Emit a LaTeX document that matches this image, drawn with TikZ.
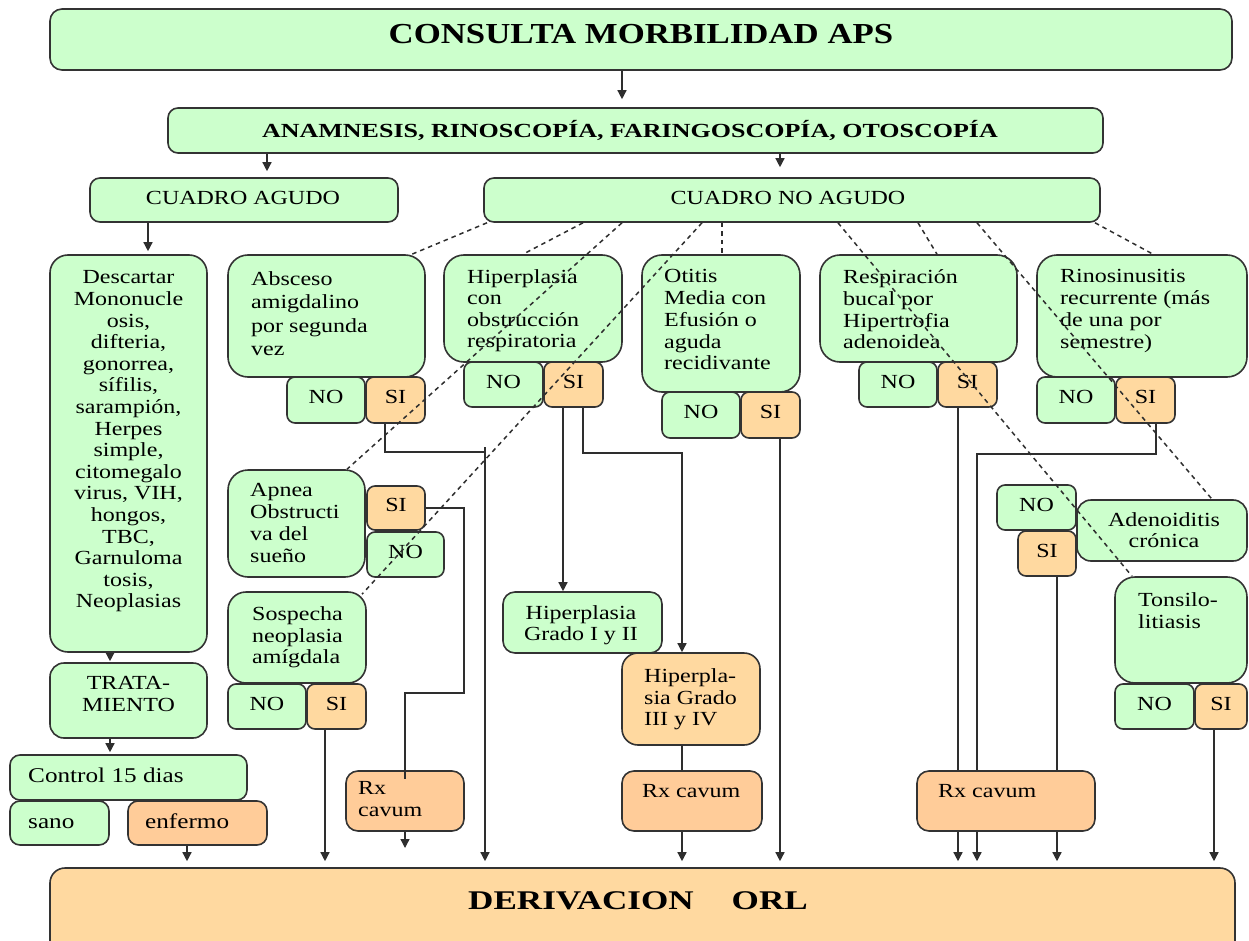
\documentclass[tikz,border=0pt]{standalone}
\usepackage{fontspec}
\setmainfont{Liberation Serif}[FakeStretch=1.2]
\newfontfamily\widefont{Liberation Serif}[FakeStretch=1.3]
\usetikzlibrary{arrows.meta,fit,backgrounds}
\definecolor{gfill}{HTML}{CCFFCC}
\definecolor{pfill}{HTML}{FFD9A0}
\definecolor{ofill}{HTML}{FFCC99}
\definecolor{bord}{HTML}{333333}
\definecolor{lncol}{HTML}{2E2E2E}
\newcommand\bodyfont{\fontsize{20}{21.7}\selectfont}
\tikzset{
  rbox/.style={draw=bord, line width=1.6pt, inner sep=0pt, rounded corners=#1},
  rbox/.default=10pt,
  gb/.style={rbox=#1, fill=gfill}, gb/.default=10pt,
  pb/.style={rbox=#1, fill=pfill}, pb/.default=8pt,
  ob/.style={rbox=#1, fill=ofill}, ob/.default=12pt,
  tx/.style={inner sep=0pt, align=left, anchor=north west, font=\bodyfont},
  tc/.style={inner sep=0pt, align=center, anchor=north, font=\bodyfont},
  tl/.style={inner sep=0pt, anchor=base, font=\bodyfont},
  tw/.style={inner sep=0pt, anchor=base west, font=\bodyfont},
  conn/.style={draw=lncol, line width=1.4pt},
  arr/.style={conn, -{Triangle[width=9pt,length=9pt]}},
  dsh/.style={draw=lncol, line width=1.5pt, dash pattern=on 4.5pt off 4pt},
}
\begin{document}
\begin{tikzpicture}[x=1pt,y=-1pt]
\useasboundingbox (0,0) rectangle (1249,941);
\clip (0,0) rectangle (1249,941);
% ---------- boxes ----------
\node[gb=12pt, fit={(50,9)(1232,70)}] (consulta) {};
\node[gb=10pt, fit={(168,108)(1103,153)}] (anam) {};
\node[gb=10pt, fit={(90,178)(398,222)}] (agudo) {};
\node[gb=10pt, fit={(484,178)(1100,222)}] (noagudo) {};
\node[gb=18pt, fit={(50,255)(207,652)}] (descartar) {};
\node[gb=14pt, fit={(50,663)(207,738)}] (trat) {};
\node[gb=10pt, fit={(10,755)(247,800)}] (control) {};
\node[gb=10pt, fit={(10,801)(109,845)}] (sano) {};
\node[ob=10pt, fit={(128,801)(267,845)}] (enfermo) {};
\node[gb=20pt, fit={(228,255)(425,377)}] (absceso) {};
\node[gb=8pt, fit={(287,377)(365,423)}] (absNO) {};
\node[pb=8pt, fit={(366,377)(425,423)}] (absSI) {};
\node[gb=20pt, fit={(444,255)(622,362)}] (hiper) {};
\node[gb=8pt, fit={(464,362)(543,407)}] (hipNO) {};
\node[pb=8pt, fit={(544,362)(603,407)}] (hipSI) {};
\node[gb=20pt, fit={(642,255)(800,392)}] (otitis) {};
\node[gb=8pt, fit={(662,392)(740,438)}] (otiNO) {};
\node[pb=8pt, fit={(741,392)(800,438)}] (otiSI) {};
\node[gb=20pt, fit={(820,255)(1017,362)}] (resp) {};
\node[gb=8pt, fit={(859,362)(937,407)}] (resNO) {};
\node[pb=8pt, fit={(938,362)(997,407)}] (resSI) {};
\node[gb=20pt, fit={(1037,255)(1247,377)}] (rino) {};
\node[gb=8pt, fit={(1037,377)(1115,423)}] (rinNO) {};
\node[pb=8pt, fit={(1116,377)(1175,423)}] (rinSI) {};
\node[gb=20pt, fit={(228,470)(365,577)}] (apnea) {};
\node[pb=8pt, fit={(367,486)(425,530)}] (apSI) {};
\node[gb=8pt, fit={(367,532)(444,577)}] (apNO) {};
\node[gb=18pt, fit={(228,592)(366,683)}] (sosp) {};
\node[gb=8pt, fit={(228,684)(306,729)}] (soNO) {};
\node[pb=8pt, fit={(307,684)(366,729)}] (soSI) {};
\node[ob=12pt, fit={(346,771)(464,831)}] (rxL) {};
\node[gb=12pt, fit={(503,592)(662,653)}] (gr12) {};
\node[pb=16pt, fit={(622,653)(760,745)}] (gr34) {};
\node[ob=12pt, fit={(622,771)(762,831)}] (rxM) {};
\node[gb=8pt, fit={(997,485)(1076,530)}] (adNO) {};
\node[pb=8pt, fit={(1018,531)(1076,576)}] (adSI) {};
\node[gb=14pt, fit={(1077,500)(1247,561)}] (aden) {};
\node[gb=20pt, fit={(1115,577)(1247,683)}] (tons) {};
\node[gb=8pt, fit={(1115,684)(1194,729)}] (toNO) {};
\node[pb=8pt, fit={(1195,684)(1247,729)}] (toSI) {};
\node[ob=12pt, fit={(917,771)(1095,831)}] (rxR) {};
\node[pb=15pt, fit={(50,868)(1235,960)}] (deriv) {};
% ---------- texts ----------
\node[inner sep=0pt, anchor=base, font=\fontsize{29}{32}\selectfont\bfseries] (consulta-t) at (641,44) {CONSULTA MORBILIDAD APS};
\node[inner sep=0pt, anchor=base, font=\widefont\fontsize{20}{22}\selectfont\bfseries] (anam-t) at (630,138) {ANAMNESIS, RINOSCOPÍA, FARINGOSCOPÍA, OTOSCOPÍA};
\node[tl] (agudo-t) at (243,205) {CUADRO AGUDO};
\node[tl] (noagudo-t) at (788,205) {CUADRO NO AGUDO};
\node[tc, font=\fontsize{20}{21.6}\selectfont] (descartar-t) at (128.5,270.5) {Descartar\\Mononucle\\osis,\\difteria,\\gonorrea,\\sífilis,\\sarampión,\\Herpes\\simple,\\citomegalo\\virus, VIH,\\hongos,\\TBC,\\Garnuloma\\tosis,\\Neoplasias};
\node[tc, font=\fontsize{20}{22}\selectfont] (trat-t) at (128.5,676.5) {TRATA-\\MIENTO};
\node[tw, font=\fontsize{21}{22}\selectfont] (control-t) at (28,782) {Control 15 dias};
\node[tw, font=\fontsize{21}{22}\selectfont] (sano-t) at (28,828) {sano};
\node[tw, font=\fontsize{21}{22}\selectfont] (enfermo-t) at (145,828) {enfermo};
\node[tx, font=\fontsize{20}{23.3}\selectfont] (absceso-t) at (251,271.5) {Absceso\\amigdalino\\por segunda\\vez};
\node[tx, font=\fontsize{20}{21.3}\selectfont] (hiper-t) at (467,269.5) {Hiperplasia\\con\\obstrucción\\respiratoria};
\node[tx] (otitis-t) at (664,269.5) {Otitis\\Media con\\Efusión o\\aguda\\recidivante};
\node[tx] (resp-t) at (843,269.5) {Respiración\\bucal por\\Hipertrofia\\adenoidea};
\node[tx] (rino-t) at (1060,269.5) {Rinosinusitis\\recurrente (más\\de una por\\semestre)};
\node[tx] (apnea-t) at (250,483.5) {Apnea\\Obstructi\\va del\\sueño};
\node[tx] (sosp-t) at (252,606.5) {Sospecha\\neoplasia\\amígdala};
\node[tx, font=\fontsize{20}{22}\selectfont] (rxL-t) at (358,781.5) {Rx\\cavum};
\node[tc, font=\fontsize{20}{21}\selectfont] (gr12-t) at (581,605.5) {Hiperplasia\\Grado I y II};
\node[tx, font=\fontsize{20}{21.5}\selectfont] (gr34-t) at (644,668.5) {Hiperpla-\\sia Grado\\III y IV};
\node[tw] (rxM-t) at (642,797) {Rx cavum};
\node[tw] (rxR-t) at (938,797) {Rx cavum};
\node[tc, font=\fontsize{20}{21}\selectfont] (aden-t) at (1164,512.5) {Adenoiditis\\crónica};
\node[tx, font=\fontsize{20}{22}\selectfont] (tons-t) at (1138,592.5) {Tonsilo-\\litiasis};
\node[tl] (absNO-t) at (326,403.5) {NO};
\node[tl] (absSI-t) at (395.5,403.5) {SI};
\node[tl] (hipNO-t) at (503.5,388) {NO};
\node[tl] (hipSI-t) at (573.5,388) {SI};
\node[tl] (otiNO-t) at (701,418.5) {NO};
\node[tl] (otiSI-t) at (770.5,418.5) {SI};
\node[tl] (resNO-t) at (898,388) {NO};
\node[tl] (resSI-t) at (967.5,388) {SI};
\node[tl] (rinNO-t) at (1076,403.5) {NO};
\node[tl] (rinSI-t) at (1145.5,403.5) {SI};
\node[tl] (apSI-t) at (396,511.5) {SI};
\node[tl] (apNO-t) at (405.5,558) {NO};
\node[tl] (soNO-t) at (267,710) {NO};
\node[tl] (soSI-t) at (336.5,710) {SI};
\node[tl] (adNO-t) at (1036.5,511) {NO};
\node[tl] (adSI-t) at (1047,557) {SI};
\node[tl] (toNO-t) at (1154.5,710) {NO};
\node[tl] (toSI-t) at (1221,710) {SI};
\node[inner sep=0pt, anchor=base, font=\widefont\fontsize{27}{30}\selectfont\bfseries] (deriv-t) at (638,909) {DERIVACION\hspace{38pt}ORL};
% ---------- solid connectors (behind boxes) ----------
\coordinate (j1) at (485,447);
\coordinate (rxLend) at (405,848);
\begin{scope}[on background layer]
\draw[arr, shorten >=8pt] (consulta.south -| 622,0) -- (anam.north -| 622,0);
\draw[arr, shorten >=6pt] (anam.south -| 267,0) -- (agudo.north -| 267,0);
\draw[arr, shorten >=10pt] (anam.south -| 780,0) -- (noagudo.north -| 780,0);
\draw[arr, shorten >=3pt] (agudo.south -| 148,0) -- (descartar.north -| 148,0);
\draw[arr, shorten >=1pt] (descartar.south -| 110,0) -- (trat.north -| 110,0);
\draw[arr, shorten >=2pt] (trat.south -| 110,0) -- (control.north -| 110,0);
\draw[arr, shorten >=6pt] (enfermo.south -| 187,0) -- (deriv.north -| 187,0);
\draw[arr, shorten >=6pt] (soSI.south -| 325,0) -- (deriv.north -| 325,0);
\draw[conn] (absSI.south -| 385,0) |- (485,452);
\draw[arr, shorten >=6pt] (j1) -- (deriv.north -| j1);
\draw[conn] (apSI.east) -| (464,693) -| (rxL.north -| 405,0);
\draw[arr] (rxL.south -| 405,0) -- (rxLend);
\draw[arr] (hipSI.south -| 563,0) -- (gr12.north -| 563,0);
\draw[arr] (hipSI.south -| 583,0) |- (682,453) -- (gr34.north -| 682,0);
\draw[conn] (gr34.south -| 682,0) -- (rxM.north -| 682,0);
\draw[arr, shorten >=6pt] (rxM.south -| 682,0) -- (deriv.north -| 682,0);
\draw[arr, shorten >=6pt] (otiSI.south -| 780,0) -- (deriv.north -| 780,0);
\draw[arr, shorten >=6pt] (resSI.south -| 958,0) -- (deriv.north -| 958,0);
\draw[arr, shorten >=6pt] (rinSI.south -| 1156,0) |- (977,454) -- (deriv.north -| 977,0);
\draw[arr, shorten >=6pt] (adSI.south -| 1057,0) -- (deriv.north -| 1057,0);
\draw[arr, shorten >=6pt] (toSI.south -| 1214,0) -- (deriv.north -| 1214,0);
\end{scope}
\draw[conn] (rxL.north -| 405,0) -- ++(0,9);
% ---------- dashed connectors (on top) ----------
\draw[dsh] (noagudo.south -| 487,0) -- (absceso.north -| 412,0);
\draw[dsh] (noagudo.south -| 583,0) -- (hiper.north -| 523,0);
\draw[dsh] (noagudo.south -| 622,0) -- (apnea.north -| 347,0);
\draw[dsh] (noagudo.south -| 702,0) -- ([yshift=-3pt]sosp.north -| 362,0);
\draw[dsh] (noagudo.south -| 722,0) -- (otitis.north -| 722,0);
\draw[dsh] (noagudo.south -| 838,0) -- (tons.north -| 1132,0);
\draw[dsh] (noagudo.south -| 918,0) -- (resp.north -| 937,0);
\draw[dsh] (noagudo.south -| 977,0) -- (aden.north -| 1212,0);
\draw[dsh] (noagudo.south -| 1095,0) -- (rino.north -| 1153,0);
\end{tikzpicture}
\end{document}
